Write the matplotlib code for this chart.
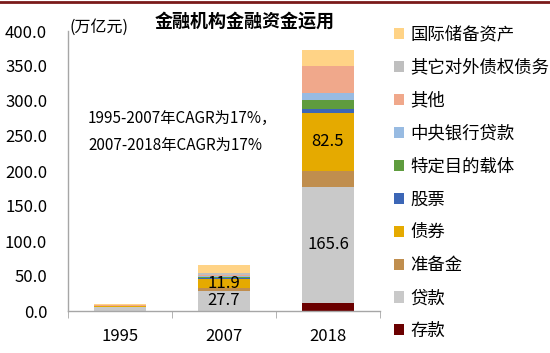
import numpy as np
import matplotlib
import matplotlib.pyplot as plt
from matplotlib.lines import Line2D
from matplotlib.patches import Patch
matplotlib.use('Agg')

plt.rcParams['font.family'] = ['Noto Sans CJK SC', 'DejaVu Sans']

years = ['1995', '2007', '2018']

# series from bottom of the stack to the top
series = ['存款', '贷款', '准备金', '债券', '股票', '特定目的载体',
          '中央银行贷款', '其他', '其它对外债权债务', '国际储备资产']
values = {
    '存款':         [0.2, 0.5, 12.0],
    '贷款':         [5.2, 27.7, 165.6],
    '准备金':       [1.0, 5.0, 23.0],
    '债券':         [0.1, 11.9, 82.5],
    '股票':         [0.1, 2.5, 6.0],
    '特定目的载体': [0.0, 0.5, 12.5],
    '中央银行贷款': [0.3, 1.5, 10.0],
    '其他':         [1.2, 2.0, 38.0],
    '其它对外债权债务': [1.0, 2.5, 1.0],
    '国际储备资产': [0.8, 11.5, 22.0],
}
colors = {
    '存款': '#6B0000',
    '贷款': '#C9C9C9',
    '准备金': '#C08E4E',
    '债券': '#E5AA00',
    '股票': '#3C66B6',
    '特定目的载体': '#5F9C3E',
    '中央银行贷款': '#98BBE2',
    '其他': '#F0A88B',
    '其它对外债权债务': '#BFBFBF',
    '国际储备资产': '#FFD386',
}
# segments that carry a value label: (series, year index)
labelled = [('贷款', 1), ('债券', 1), ('贷款', 2), ('债券', 2)]


def main():
    fig = plt.figure(figsize=(5.5, 3.53), dpi=100)
    ax = fig.add_axes([68 / 550, 1 - 311 / 353, 312 / 550, 280 / 353])

    x = np.arange(len(years))
    bottom = np.zeros(len(years))
    bars = {}
    for name in series:
        vals = np.array(values[name])
        bars[name] = ax.bar(x, vals, width=0.5, bottom=bottom,
                            color=colors[name], linewidth=0)
        bottom += vals

    for name, i in labelled:
        rect = bars[name][i]
        ax.text(rect.get_x() + rect.get_width() / 2,
                rect.get_y() + rect.get_height() / 2,
                '{:.1f}'.format(values[name][i]),
                ha='center', va='center', fontsize=12, color='black')

    ax.set_xlim(-0.5, 2.5)
    ax.set_ylim(0, 400)
    ax.set_xticks(x)
    ax.set_xticklabels(years)
    ax.set_xticks([-0.5, 0.5, 1.5, 2.5], minor=True)
    ax.tick_params(axis='x', which='major', length=0, pad=12, labelsize=12)
    ax.tick_params(axis='x', which='minor', length=5, color='#A6A6A6',
                   direction='out')
    ax.set_yticks(np.arange(0, 401, 50))
    ax.set_yticklabels(['{:.1f}'.format(v) for v in np.arange(0, 401, 50)])
    ax.tick_params(axis='y', length=0, pad=15, labelsize=12)
    for side in ['top', 'right']:
        ax.spines[side].set_visible(False)
    for side in ['left', 'bottom']:
        ax.spines[side].set_color('#A6A6A6')
        ax.spines[side].set_linewidth(1)

    fig.text(70 / 550, 1 - 27 / 353, '(万亿元)', fontsize=11.5,
             ha='left', va='center')
    fig.text(245 / 550, 1 - 21 / 353, '金融机构金融资金运用', fontsize=13,
             fontweight='bold', ha='center', va='center')
    fig.text(88 / 550, 1 - 132 / 353,
             '1995-2007年CAGR为17%，\n2007-2018年CAGR为17%',
             fontsize=11, ha='left', va='center', linespacing=1.75)

    handles = [Patch(facecolor=colors[n], edgecolor='none')
               for n in reversed(series)]
    fig.legend(handles, list(reversed(series)), loc='upper left',
               bbox_to_anchor=(385 / 550, 1 - 17 / 353), frameon=False,
               fontsize=12.5, handlelength=0.6, handleheight=0.6,
               handletextpad=0.35, labelspacing=0.86, borderpad=0)

    fig.add_artist(Line2D([0, 1], [1 - 1.5 / 353, 1 - 1.5 / 353],
                          color='#7A1A1A', linewidth=2))

    fig.savefig('out.png', dpi=100)


if __name__ == '__main__':
    main()
